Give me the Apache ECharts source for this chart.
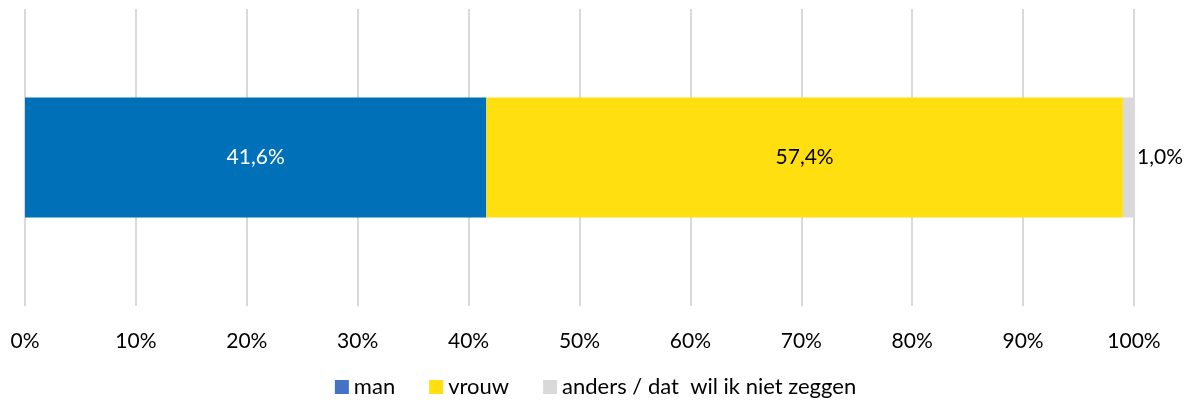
<!DOCTYPE html>
<html>
<head>
<meta charset="utf-8">
<script src="https://cdn.jsdelivr.net/npm/echarts@6/dist/echarts.min.js"></script>
<style>
  html, body { margin: 0; padding: 0; background: #fff; }
  #chart { width: 1191px; height: 405px; }
</style>
</head>
<body>
<div id="chart"></div>
<script>
var categories = ['geslacht'];
var seriesNames = ['man', 'vrouw', 'anders / dat  wil ik niet zeggen'];
var manData = [41.6];
var vrouwData = [57.4];
var andersData = [1.0];
var xTicks = [0, 10, 20, 30, 40, 50, 60, 70, 80, 90, 100];

var barColors = ['#0070B8', '#FFDF0F', '#D9D9D9'];
var legendColors = ['#4472C4', '#FFDF0F', '#D9D9D9'];

function fmt(v) {
    return v.toFixed(1).replace('.', ',') + '%';
}

var chart = echarts.init(document.getElementById('chart'));
var font = 'Lato, "Open Sans", sans-serif';

var option = {
    animation: false,
    textStyle: { fontFamily: font },
    grid: { left: 25, right: 57, top: 9, bottom: 99 },
    legend: {
        top: 371,
        left: 'center',
        itemWidth: 14,
        itemHeight: 14,
        itemGap: 34,
        icon: 'rect',
        textStyle: { fontSize: 22, color: '#000', fontFamily: font },
        data: seriesNames.map(function (n, i) {
            return { name: n, itemStyle: { color: legendColors[i] } };
        })
    },
    xAxis: {
        type: 'value',
        min: xTicks[0],
        max: xTicks[xTicks.length - 1],
        interval: 10,
        axisLine: { show: false },
        axisTick: { show: false },
        splitLine: { lineStyle: { color: '#D9D9D9', width: 2 } },
        axisLabel: {
            margin: 25,
            fontSize: 21,
            color: '#000',
            formatter: '{value}%'
        }
    },
    yAxis: {
        type: 'category',
        data: categories,
        show: false
    },
    series: [{
        name: seriesNames[0],
        type: 'bar',
        stack: 'total',
        barWidth: 120,
        data: manData,
        itemStyle: { color: barColors[0] },
        label: {
            show: true, position: 'inside', color: '#fff', fontSize: 21,
            formatter: function (p) { return fmt(p.value); }
        }
    }, {
        name: seriesNames[1],
        type: 'bar',
        stack: 'total',
        barWidth: 120,
        data: vrouwData,
        itemStyle: { color: barColors[1] },
        label: {
            show: true, position: 'inside', color: '#000', fontSize: 21,
            formatter: function (p) { return fmt(p.value); }
        }
    }, {
        name: seriesNames[2],
        type: 'bar',
        stack: 'total',
        barWidth: 120,
        data: andersData,
        itemStyle: { color: barColors[2] },
        label: {
            show: true, position: 'right', distance: 3, color: '#000', fontSize: 21,
            formatter: function (p) { return fmt(p.value); }
        }
    }]
};

chart.setOption(option);
</script>
</body>
</html>
